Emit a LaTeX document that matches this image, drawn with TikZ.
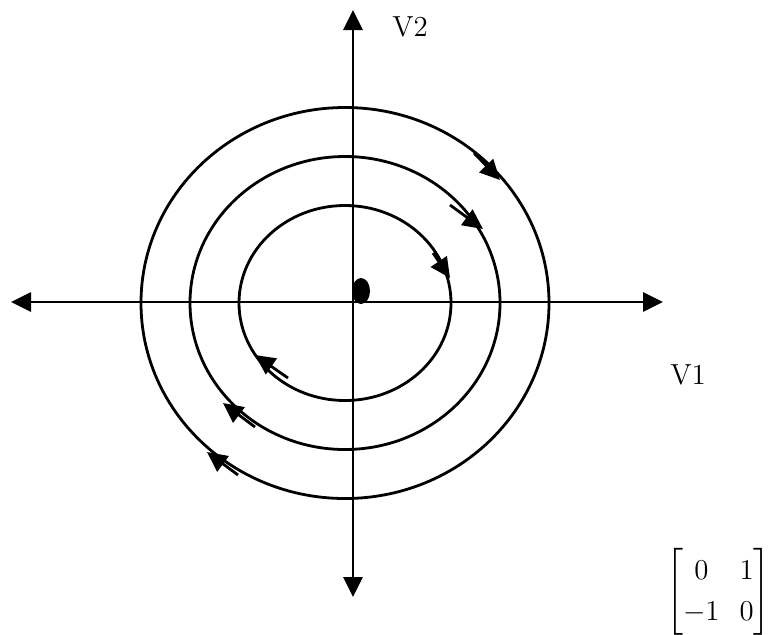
\documentclass[tikz,border=0pt]{standalone}
\usepackage{amsmath,amssymb}
\usepackage{tikz}
\usetikzlibrary{arrows.meta,calc}

\tikzset{
    lbl/.style={font=\fontsize{14.5}{20.5}\selectfont, inner sep=0pt},
    flow/.style={-{Triangle[length=10pt,width=9.5pt]}}
}

\begin{document}
\begin{tikzpicture}[x=0.5pt, y=-0.5pt, line width=1.4pt, >={Triangle[length=10pt,width=9.5pt]}]
    \useasboundingbox (0,0) rectangle (774,634);
    \coordinate (C) at (345,303);
    \coordinate (L) at (11,302);
    \coordinate (R) at (663,302);
    \coordinate (T) at (353,10);
    \coordinate (B) at (353,597);

    % 坐标轴
    \draw[<->] (L) -- (R);
    \draw[<->] (T) -- (B);

    % 三条闭轨道
    \foreach \rx/\ry in {106/97.5, 155/146.5, 204/195.5} {
        \draw (C) ellipse [x radius=\rx, y radius=\ry];
    }

    % 顺时针方向箭头 (尾 -> 尖)
    \foreach \xa/\ya/\xb/\yb in {474/153/500/180, 450/205/483/229, 433/253/450/278,
                                 288/378/255/355, 255/427/223/403, 238/475/207/452} {
        \draw[flow] (\xa,\ya) -- (\xb,\yb);
    }

    % 平衡点
    \fill (361,291) ellipse [x radius=9, y radius=13];

    % 标注
    \node[lbl] (v2) at (410,27) {V2};
    \node[lbl] (v1) at (688,375) {V1};
    \node[lbl, anchor=east] (mat) at (772,592) {$\begin{bmatrix} 0 & 1\\ -1 & 0 \end{bmatrix}$};
\end{tikzpicture}
\end{document}
